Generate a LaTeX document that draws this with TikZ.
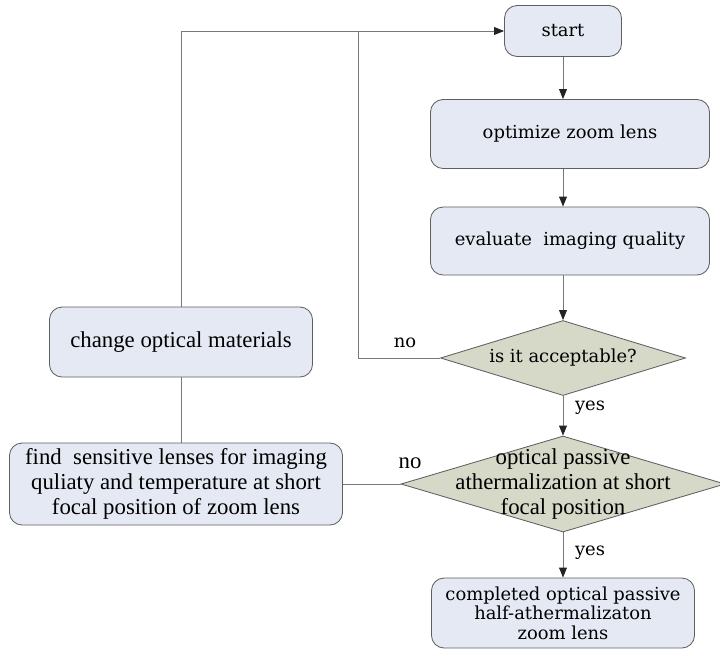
\documentclass[tikz,border=0pt]{standalone}
\usepackage{fontspec}
\setmainfont{Liberation Serif}
\newfontfamily\schfont{DejaVu Serif}
\usetikzlibrary{arrows.meta,shapes.geometric,positioning}
\definecolor{BoxFill} {RGB}{228,233,243}
\definecolor{BoxLine} {RGB}{ 95, 95, 95}
\definecolor{DiaFill} {RGB}{214,216,200}
\definecolor{LineGray}{RGB}{120,120,120}
\definecolor{TipDark} {RGB}{ 35, 35, 35}
\tikzset{
  %% flow boxes
  flbox/.style={rectangle,rounded corners=9pt,
                draw=BoxLine,fill=BoxFill,line width=0.6pt,
                align=center,inner sep=0pt},
  %% decision diamonds (text put on top separately)
  flcheck/.style={diamond,draw=BoxLine,fill=DiaFill,
                  line width=0.6pt,inner sep=0pt},
  schtxt/.style={font=\schfont\fontsize{12.75}{14}\selectfont,align=center},
  tmstxt/.style={font=\fontsize{16.2}{17.8}\selectfont,align=center},
  %% connectors
  flarr/.style={-{Triangle[length=7pt,width=5.5pt,color=TipDark]},
                line width=0.6pt,color=LineGray},
  flline/.style={line width=0.6pt,color=LineGray},
}
\begin{document}
\begin{tikzpicture}[x=0.025cm,y=-0.025cm]
  \useasboundingbox (0,0) rectangle (720,652);

  \node[flbox,schtxt,minimum width=2.925cm,minimum height=1.275cm]
        (start) at (563,31) {start};
  \node[flbox,schtxt,minimum width=6.975cm,minimum height=1.725cm]
        (opt) at (570,134) {optimize zoom lens};
  \node[flbox,schtxt,minimum width=6.975cm,minimum height=1.7cm]
        (eval) at (570,241) {evaluate~ imaging quality};
  \node[flcheck,minimum width=6.125cm,minimum height=1.875cm]
        (acc) at (563,358) {};
  \node[schtxt] (acctxt) at (acc.center) {is it acceptable?};
  \node[flbox,tmstxt,minimum width=6.575cm,minimum height=1.75cm]
        (change) at (181,342) {change optical materials};
  \node[flbox,tmstxt,minimum width=8.325cm,minimum height=2.05cm]
        (find) at (176,484)
        {find~ sensitive lenses for imaging\\
         quliaty and temperature at short\\
         focal position of zoom lens};
  \node[flcheck,minimum width=8.1cm,minimum height=2.4cm]
        (ath) at (563,484) {};
  \node[tmstxt] (athtxt) at (ath.center)
        {optical passive\\athermalization at short\\focal position};
  \node[flbox,schtxt,minimum width=6.575cm,minimum height=1.75cm]
        (done) at (563,613)
        {completed optical passive\\half-athermalizaton\\zoom lens};

  \coordinate (loopx) at (358,0);
  \node[schtxt] (no1)  at (405,343) {no};
  \node[schtxt] (yes1) at (590,408) {yes};
  \node[tmstxt] (no2)  at (410,463) {no};
  \node[schtxt] (yes2) at (590,553) {yes};

  \draw[flarr]  (start.south) -- (start.south |- opt.north);
  \draw[flarr]  (acc.north |- opt.south) -- (acc.north |- eval.north);
  \draw[flarr]  (acc.north |- eval.south) -- (acc.north);
  \draw[flarr]  (acc.west) -| (loopx |- start.west) -- (start.west);
  \draw[flline] (change.north) |- (loopx |- start.west);
  \draw[flline] (change.south) -- (change.south |- find.north);
  \draw[flline] (find.east) -- (ath.west);
  \draw[flarr]  (acc.south) -- (ath.north);
  \draw[flarr]  (ath.south) -- (done.north);
\end{tikzpicture}
\end{document}
